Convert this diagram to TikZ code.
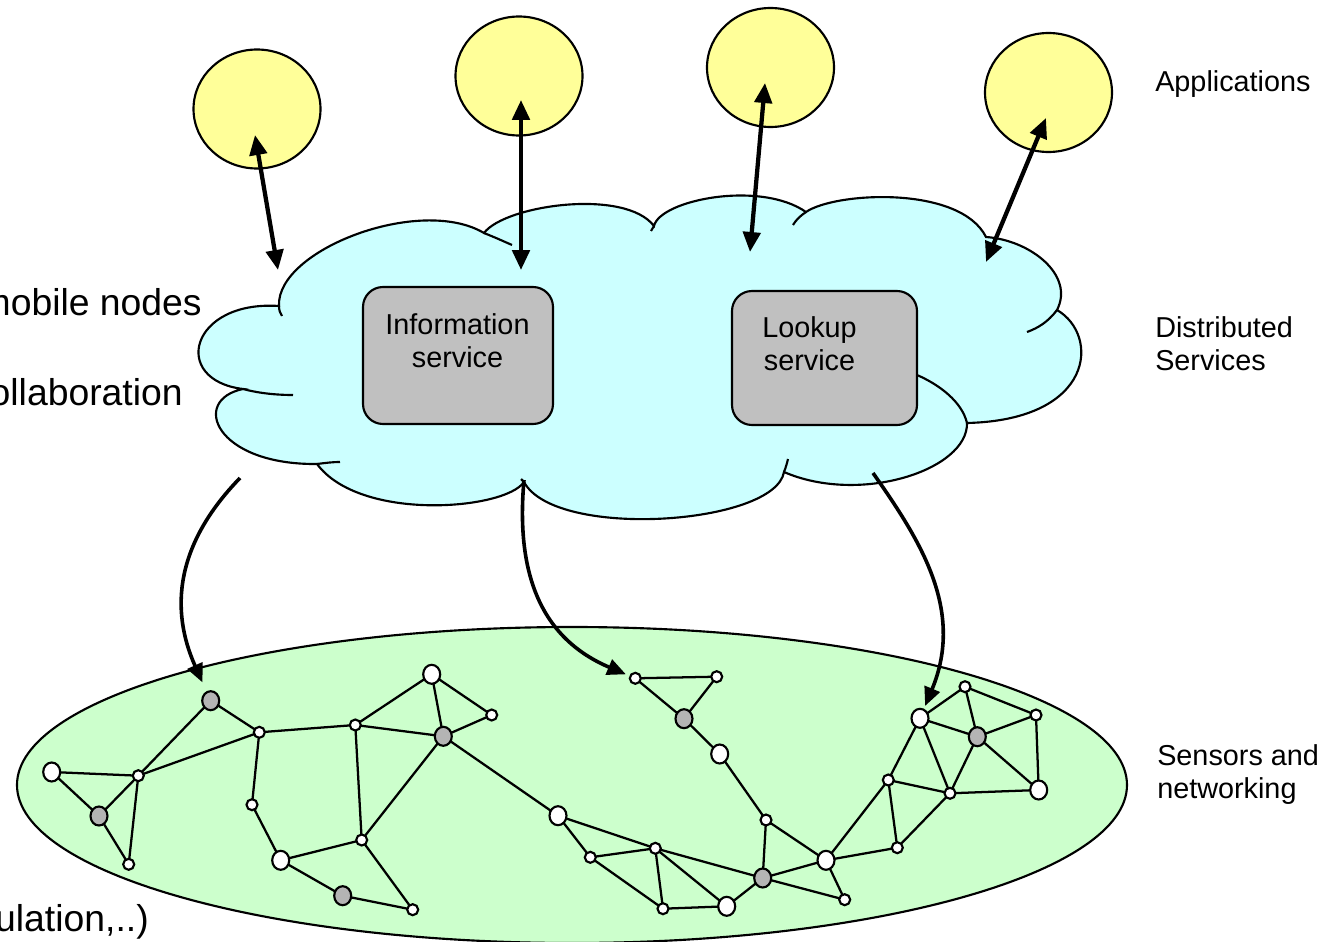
\documentclass[tikz,border=0pt]{standalone}
\usepackage{fontspec}
\setmainfont{Liberation Sans}
\usetikzlibrary{shapes.geometric,arrows.meta}
\definecolor{cloudc}{HTML}{CCFFFF}
\definecolor{greenc}{HTML}{CCFFCC}
\definecolor{appc}{HTML}{FFFF99}
\definecolor{boxc}{HTML}{C0C0C0}
\definecolor{gnode}{HTML}{B4B4B4}
\begin{document}
\begin{tikzpicture}[x=0.75pt,y=-0.75pt,
  thinline/.style={line width=1.6pt},
  app/.style={ellipse,draw,line width=1.6pt,fill=appc,minimum width=95.25pt,minimum height=89.25pt,inner sep=0pt,outer sep=0pt},
  svc/.style={draw,line width=1.6pt,fill=boxc,rounded corners=15pt,inner sep=0pt,outer sep=0pt},
  sn/.style={circle,draw,fill=white,line width=1.6pt,minimum size=8.25pt,inner sep=0pt,outer sep=0pt},
  bn/.style={ellipse,draw,fill=white,line width=1.6pt,minimum width=12.75pt,minimum height=14.25pt,inner sep=0pt,outer sep=0pt},
  gn/.style={bn,fill=gnode},
  edge/.style={line width=1.7pt},
  dbl/.style={line width=3.2pt,{Triangle[length=15pt,width=13pt]}-{Triangle[length=15pt,width=13pt]}},
  carrow/.style={line width=2.7pt,-{Triangle[length=14pt,width=12pt]}},
  lbl/.style={font=\fontsize{21.6}{24.75}\selectfont,anchor=base west,inner sep=0pt,align=left},
  boxtxt/.style={font=\fontsize{21.6}{24.75}\selectfont,anchor=base,inner sep=0pt,align=center},
  lefttxt/.style={font=\fontsize{28}{32}\selectfont,anchor=base east,inner sep=0pt},
]
\clip (0,0) rectangle (1340,942);
\fill[white] (0,0) rectangle (1340,942);

% sensor field
\node[ellipse,draw,fill=greenc,line width=1.6pt,minimum width=832.5pt,minimum height=237pt,inner sep=0pt] (field) at (572,785) {};

% graph nodes
\node[gn] (gA) at (210.7,700.7) {};
\node[sn] (gB) at (259.3,732.3) {};
\node[bn] (gC) at (51.7,772) {};
\node[sn] (gD) at (138.3,775.7) {};
\node[gn] (gE) at (99,816) {};
\node[sn] (gF) at (128.7,864.3) {};
\node[sn] (gG) at (355.3,725) {};
\node[bn] (gH) at (431.7,674.3) {};
\node[gn] (gI) at (443.3,736.3) {};
\node[sn] (gJ) at (252,804.7) {};
\node[bn] (gK) at (280.7,860.3) {};
\node[sn] (gL) at (361.7,840) {};
\node[gn] (gM) at (342.7,895.7) {};
\node[sn] (gN) at (412.7,909.7) {};
\node[sn] (gO) at (491.7,715) {};
\node[sn] (gP) at (635.3,678.3) {};
\node[sn] (gQ) at (716.7,676.7) {};
\node[gn] (gR) at (684,718.7) {};
\node[bn] (gS) at (719.7,754) {};
\node[sn] (gT) at (766,820) {};
\node[bn] (gU) at (558,815.7) {};
\node[sn] (gV) at (590.3,857.3) {};
\node[sn] (gW) at (655.3,848.3) {};
\node[sn] (gX) at (663,908.7) {};
\node[bn] (gY) at (726.7,906.3) {};
\node[gn] (gZ) at (762.7,878) {};
\node[bn] (gAA) at (826,860.3) {};
\node[sn] (gAB) at (844.7,899.7) {};
\node[bn] (gAC) at (920,718.3) {};
\node[sn] (gAD) at (965,686.7) {};
\node[sn] (gAE) at (1036,715) {};
\node[gn] (gAF) at (977.3,736.7) {};
\node[sn] (gAG) at (888.3,780) {};
\node[sn] (gAH) at (950,793.3) {};
\node[bn] (gAI) at (1038.7,790) {};
\node[sn] (gAJ) at (897.3,847.7) {};

\foreach \p/\q in {gC/gD,gC/gE,gE/gD,gE/gF,gD/gF,gD/gA,gD/gB,gA/gB,gB/gG,gB/gJ,gJ/gK,gK/gL,gK/gM,gM/gN,gL/gN,gG/gL,gG/gH,gG/gI,gH/gI,gH/gO,gI/gO,gI/gL,gI/gU,gU/gW,gW/gZ,gU/gV,gV/gW,gV/gX,gW/gX,gW/gY,gX/gY,gY/gZ,gZ/gT,gZ/gAA,gZ/gAB,gAA/gAB,gT/gAA,gS/gT,gR/gS,gP/gR,gP/gQ,gQ/gR,gAA/gAG,gAA/gAJ,gAG/gAJ,gAG/gAH,gAH/gAJ,gAG/gAC,gAC/gAH,gAC/gAD,gAC/gAF,gAD/gAF,gAD/gAE,gAF/gAE,gAF/gAH,gAF/gAI,gAE/gAI,gAH/gAI}
  \draw[edge] (\p) -- (\q);

% cloud
\path[fill=cloudc,draw,thinline] (279,306)
 .. controls (276,250) and (420,195) .. (484,233)
 .. controls (505,205) and (625,188) .. (654,226)
 .. controls (660,200) and (760,180) .. (806,212)
 .. controls (835,192) and (960,185) .. (986,237)
 .. controls (1030,240) and (1075,275) .. (1057,310)
 .. controls (1100,335) and (1095,420) .. (967,423)
 .. controls (968,470) and (860,505) .. (784,472)
 .. controls (775,525) and (555,540) .. (524,482)
 .. controls (505,510) and (360,522) .. (317,464)
 .. controls (215,465) and (190,400) .. (243,389)
 .. controls (170,380) and (190,300) .. (279,306) -- cycle;
\draw[thinline] (243,389) .. controls (258,393) and (275,395) .. (293,395);
\draw[thinline] (317,464) .. controls (325,463) and (332,462) .. (340,462);
\draw[thinline] (279,306) .. controls (279,310) and (280,313) .. (282,316);
\draw[thinline] (484,233) .. controls (494,237) and (503,241) .. (512,245);
\draw[thinline] (654,226) -- (651,231);
\draw[thinline] (806,212) .. controls (800,216) and (796,220) .. (793,225);
\draw[thinline] (1057,310) .. controls (1048,322) and (1038,328) .. (1027,332);
\draw[thinline] (784,472) .. controls (786,467) and (787,463) .. (788,459);
\draw[thinline] (524,482) -- (521,479);

% service boxes
\node[svc,minimum width=142.5pt,minimum height=102.75pt] (info) at (458,355.5) {};
\node[boxtxt] (infot) at (457.5,367) {Information\\service};
\draw[thinline] (917,375) .. controls (940,385) and (962,402) .. (967,423);
\node[svc,minimum width=138.75pt,minimum height=100.5pt] (look) at (824.5,358) {};
\node[boxtxt] (lookt) at (809.5,370) {Lookup\\service};

% applications
\node[app] (app1) at (257,109) {};
\node[app] (app2) at (519,76) {};
\node[app] (app3) at (770.5,67.5) {};
\node[app] (app4) at (1048.5,92.5) {};

\coordinate (a1t) at (255,135); \coordinate (a1b) at (278,270);
\coordinate (a2t) at (521,100); \coordinate (a2b) at (521,270);
\coordinate (a3t) at (765,83);  \coordinate (a3b) at (750,252);
\coordinate (a4t) at (1046,118); \coordinate (a4b) at (986,262);
\draw[dbl] (a1t) -- (a1b);
\draw[dbl] (a2t) -- (a2b);
\draw[dbl] (a3t) -- (a3b);
\draw[dbl] (a4t) -- (a4b);

% mapping arrows
\coordinate (c1s) at (240,478);
\coordinate (c2s) at (524,480);
\coordinate (c3s) at (873,473);
\draw[carrow,shorten >=8pt] (c1s) .. controls (175,545) and (170,610) .. (gA);
\draw[carrow,shorten >=3.5pt] (c2s) .. controls (515,580) and (545,640) .. (gP);
\draw[carrow,shorten >=3pt] (c3s) .. controls (920,540) and (965,610) .. (gAC);

% labels
\node[lbl] (lapp) at (1155,92) {Applications};
\node[lbl] (lds) at (1155,370) {Distributed\\Services};
\node[lbl] (lsn) at (1157,798) {Sensors and\\networking};
\node[lefttxt] (lm) at (202,315) {mobile nodes};
\node[lefttxt] (lc) at (183,405) {collaboration};
\node[lefttxt] (lu) at (149,931) {ulation,..)};
\end{tikzpicture}
\end{document}
